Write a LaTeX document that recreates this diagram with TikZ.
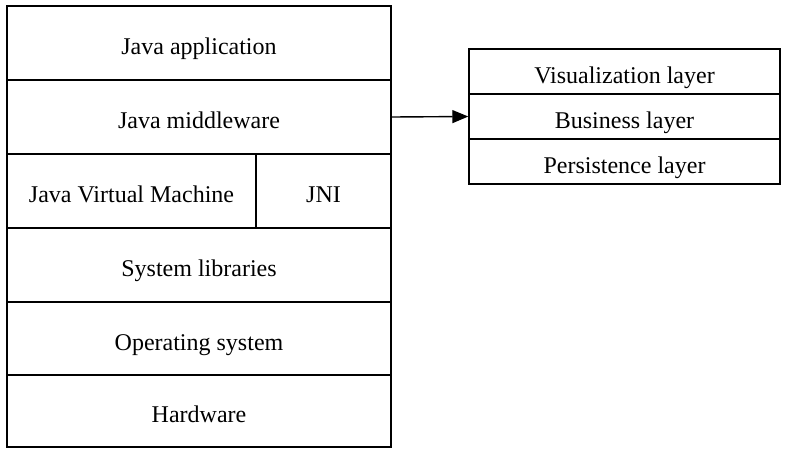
\documentclass[tikz,border=0pt]{standalone}
\usepackage{fontspec}
\setmainfont{Liberation Serif}
\usetikzlibrary{arrows.meta}
\begin{document}
\begin{tikzpicture}[x=1pt,y=-1pt,
  cell/.style={draw, line width=1.4pt, inner sep=0pt, text height=23pt, text depth=0pt, font=\fontsize{24}{28}\selectfont},
  rcell/.style={draw, line width=1.4pt, inner sep=0pt, text height=23pt, text depth=0pt, font=\fontsize{24}{28}\selectfont}]
\useasboundingbox (0,0) rectangle (789,448);
% left stack
\node[cell, minimum width=384pt, minimum height=74pt] (app) at (199,43) {Java application};
\node[cell, minimum width=384pt, minimum height=74pt] (mid) at (199,117) {Java middleware};
\node[cell, minimum width=249pt, minimum height=74pt] (jvm) at (131.5,191) {Java Virtual Machine};
\node[cell, minimum width=135pt, minimum height=74pt] (jni) at (323.5,191) {JNI};
\node[cell, minimum width=384pt, minimum height=74pt] (sys) at (199,265) {System libraries};
\node[cell, minimum width=384pt, minimum height=73pt] (os) at (199,338.5) {Operating system};
\node[cell, minimum width=384pt, minimum height=72pt] (hw) at (199,411) {Hardware};
% right stack
\node[rcell, minimum width=311pt, minimum height=45pt] (vis) at (624.5,71.5) {Visualization layer};
\node[rcell, minimum width=311pt, minimum height=45pt] (bus) at (624.5,116.5) {Business layer};
\node[rcell, minimum width=311pt, minimum height=45pt] (per) at (624.5,161.5) {Persistence layer};
\draw[line width=1.4pt, -{Triangle[length=16pt,width=13pt]}] (mid.east) -- (bus.west);
\end{tikzpicture}
\end{document}
